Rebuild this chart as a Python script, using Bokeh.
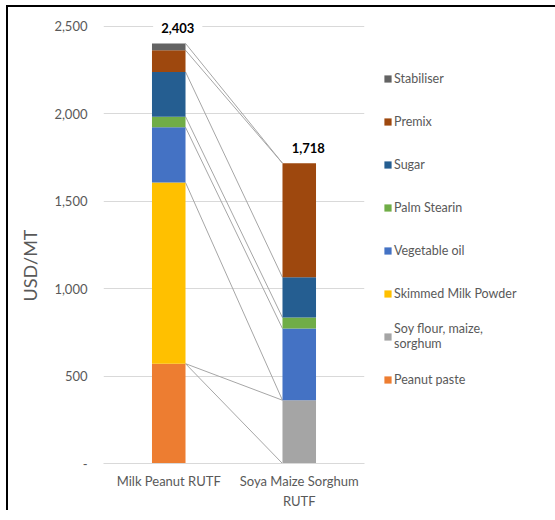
import numpy as np
from math import pi
from bokeh.plotting import figure
from bokeh.layouts import column, row
from bokeh.models import (ColumnDataSource, FactorRange, Range1d, Legend, LegendItem,
                          Label, FixedTicker, Spacer)
from bokeh.transform import dodge
from bokeh.core.properties import value
from bokeh.embed import file_html
from bokeh.resources import INLINE

# ---------------- data ----------------
categories = ["Milk Peanut RUTF", "Soya Maize Sorghum\nRUTF"]

# stack order, bottom to top
series_keys = ["pp", "soy", "smp", "veg", "palm", "sugar", "premix", "stab"]
series_names = ["Peanut paste", "Soy flour, maize,\nsorghum", "Skimmed Milk Powder",
                "Vegetable oil", "Palm Stearin", "Sugar", "Premix", "Stabiliser"]
series_colors = ["#ED7D31", "#A5A5A5", "#FFC000", "#4472C4", "#70AD47",
                 "#255E91", "#9E480E", "#636363"]

peanut_paste = [571, 0]
soy_maize_sorghum = [0, 362]
skimmed_milk_powder = [1036, 0]
vegetable_oil = [316, 410]
palm_stearin = [61, 63]
sugar = [256, 230]
premix = [124, 653]
stabiliser = [39, 0]

y_ticks = [0, 500, 1000, 1500, 2000, 2500]
y_tick_labels = ["-", "500", "1,000", "1,500", "2,000", "2,500"]

# ---------------- derived tables ----------------
values = [peanut_paste, soy_maize_sorghum, skimmed_milk_powder, vegetable_oil,
          palm_stearin, sugar, premix, stabiliser]
data = {"cat": categories}
for k, v in zip(series_keys, values):
    data[k] = v
src = ColumnDataSource(data)

totals = np.sum(np.array(values), axis=0)
tot_src = ColumnDataSource(dict(cat=categories, total=totals.tolist(),
                                label=["{:,}".format(int(t)) for t in totals]))

cum = np.cumsum(np.array(values), axis=0)  # rows: series, cols: categories
line_src = ColumnDataSource(dict(c1=[categories[0]] * len(series_keys),
                                 c2=[categories[1]] * len(series_keys),
                                 y0=cum[:, 0].tolist(), y1=cum[:, 1].tolist()))

FONT = "Lato"
GREY = "#595959"
BAR_W = 0.257

p = figure(x_range=FactorRange(*categories), y_range=Range1d(0, 2580),
           frame_width=257, frame_height=449,
           min_border_left=95, min_border_right=179, min_border_top=5, min_border_bottom=43,
           output_backend="svg", toolbar_location=None)
p.styles = {"border-left": "2px solid black", "border-top": "2px solid black",
            "border-right": "2px solid black"}
p.outline_line_color = None

# series lines
p.segment(x0=dodge("c1", BAR_W / 2, range=p.x_range), y0="y0",
          x1=dodge("c2", -BAR_W / 2, range=p.x_range), y1="y1",
          source=line_src, line_color="#A6A6A6", line_width=1)

# stacked bars
rs = p.vbar_stack(series_keys, x="cat", width=BAR_W, source=src,
                  fill_color=series_colors, line_color=None)

# totals
p.text(x="cat", y="total", text="label", source=tot_src,
       x_offset=9, y_offset=-15, text_align="center", text_baseline="middle",
       text_font=value(FONT), text_font_style="bold", text_font_size=value("13px"),
       text_color="black", background_fill_color="white", padding=8)

# axes
p.xgrid.grid_line_color = None
p.ygrid.grid_line_color = "#D9D9D9"
p.yaxis.ticker = FixedTicker(ticks=y_ticks)
p.yaxis.major_label_overrides = dict(zip(y_ticks, y_tick_labels))
p.yaxis.axis_line_color = None
p.yaxis.major_tick_out = 0
p.yaxis.major_tick_in = 0
p.yaxis.minor_tick_out = 0
p.yaxis.minor_tick_in = 0
p.yaxis.major_label_standoff = 16
p.yaxis.major_label_text_font = FONT
p.yaxis.major_label_text_font_size = "13px"
p.yaxis.major_label_text_color = GREY

p.xaxis.axis_line_color = "#D9D9D9"
p.xaxis.major_tick_out = 0
p.xaxis.major_tick_in = 0
p.xaxis.major_label_standoff = 9
p.xaxis.major_label_text_font = FONT
p.xaxis.major_label_text_font_size = "13px"
p.xaxis.major_label_text_color = GREY
p.xaxis.major_label_text_line_height = 1.3

# y axis title, in the left side panel
p.add_layout(Label(x=0, y=198, x_units="screen", y_units="screen", text="USD/MT",
                   angle=pi / 2, text_align="center", text_baseline="middle",
                   text_font=FONT, text_font_size="18px", text_color=GREY), "left")

# legend (top to bottom)
order = ["stab", "premix", "sugar", "palm", "veg", "smp", "soy", "pp"]
idx = {k: i for i, k in enumerate(series_keys)}
items = [LegendItem(label=series_names[idx[k]], renderers=[rs[idx[k]]]) for k in order]
legend = Legend(items=items, location=(19, 68), padding=0, margin=0, spacing=11,
                label_height=32, glyph_height=9, glyph_width=9, label_standoff=2,
                border_line_color=None, background_fill_alpha=0,
                label_text_font=FONT, label_text_font_size="12.5px",
                label_text_color=GREY)
p.add_layout(legend, "right")

layout = column(Spacer(height=5), row(Spacer(width=6), p))
open("out.html", "w").write(file_html(layout, INLINE))
